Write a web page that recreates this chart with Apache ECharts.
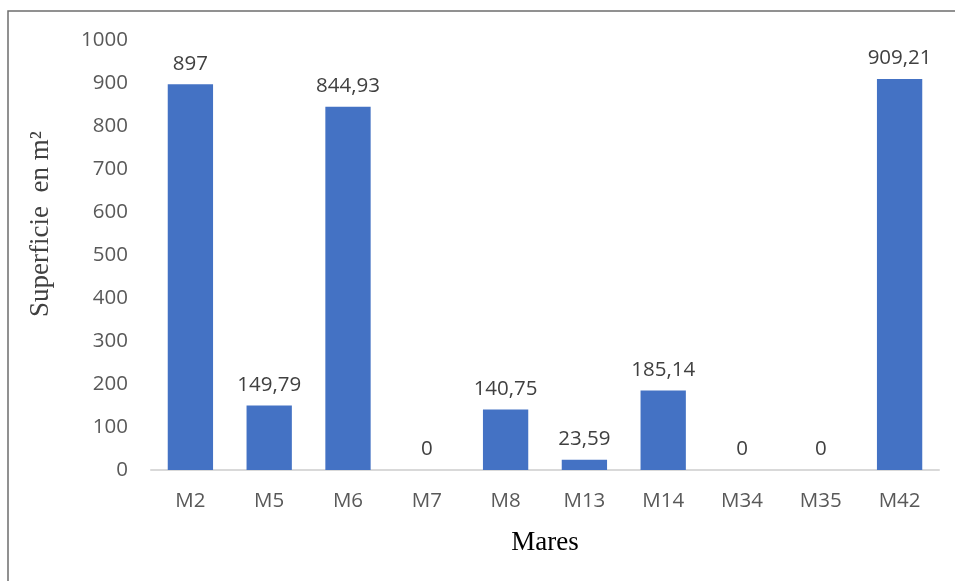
<!DOCTYPE html>
<html><head><meta charset="utf-8">
<script src="https://cdn.jsdelivr.net/npm/echarts@6/dist/echarts.min.js"></script>
<style>html,body{margin:0;padding:0;background:#fff}#c{width:955px;height:581px}</style>
</head><body><div id="c"></div>
<script>
const categories = ['M2','M5','M6','M7','M8','M13','M14','M34','M35','M42'];
const values = [897, 149.79, 844.93, 0, 140.75, 23.59, 185.14, 0, 0, 909.21];
const labels = ['897','149,79','844,93','0','140,75','23,59','185,14','0','0','909,21'];
const yTicks = [0,100,200,300,400,500,600,700,800,900,1000];

const chart = echarts.init(document.getElementById('c'));
chart.setOption({
  animation: false,
  backgroundColor: '#fff',
  grid: {left: 151, right: 16, top: 40, bottom: 111, containLabel: false},
  xAxis: {
    type: 'category', data: categories,
    axisLine: {lineStyle: {color: '#d9d9d9', width: 2}},
    axisTick: {show: false},
    axisLabel: {color: '#595959', fontFamily: 'Open Sans', fontSize: 20.5, margin: 21},
    name: 'Mares', nameLocation: 'middle', nameGap: 59,
    nameTextStyle: {fontFamily: 'Liberation Serif', fontSize: 27, color: '#000'}
  },
  yAxis: {
    type: 'value', min: yTicks[0], max: yTicks[yTicks.length-1], interval: 100,
    axisLine: {show: false}, axisTick: {show: false},
    splitLine: {show: false},
    axisLabel: {color: '#595959', fontFamily: 'Open Sans', fontSize: 20.5, margin: 23,
      formatter: v => String(v)}
  },
  series: [{
    type: 'bar', data: values, barCategoryGap: '42.5%',
    itemStyle: {color: '#4472C4'},
    label: {show: true, position: 'top', distance: 10, color: '#404040',
      fontFamily: 'Open Sans', fontSize: 20.5,
      formatter: p => labels[p.dataIndex]}
  }],
  graphic: [
    {type: 'rect', shape: {x: 8, y: 11, width: 1000, height: 1000},
     style: {fill: 'none', stroke: '#6e6e6e', lineWidth: 1.5}, silent: true, z: -10},
    {type: 'text', x: 41, y: 224, rotation: Math.PI/2,
     style: {text: 'Superficie  en m²', fontFamily: 'Liberation Serif', fontSize: 27,
       fill: '#404040', align: 'center', verticalAlign: 'middle'}}
  ]
});
</script></body></html>
